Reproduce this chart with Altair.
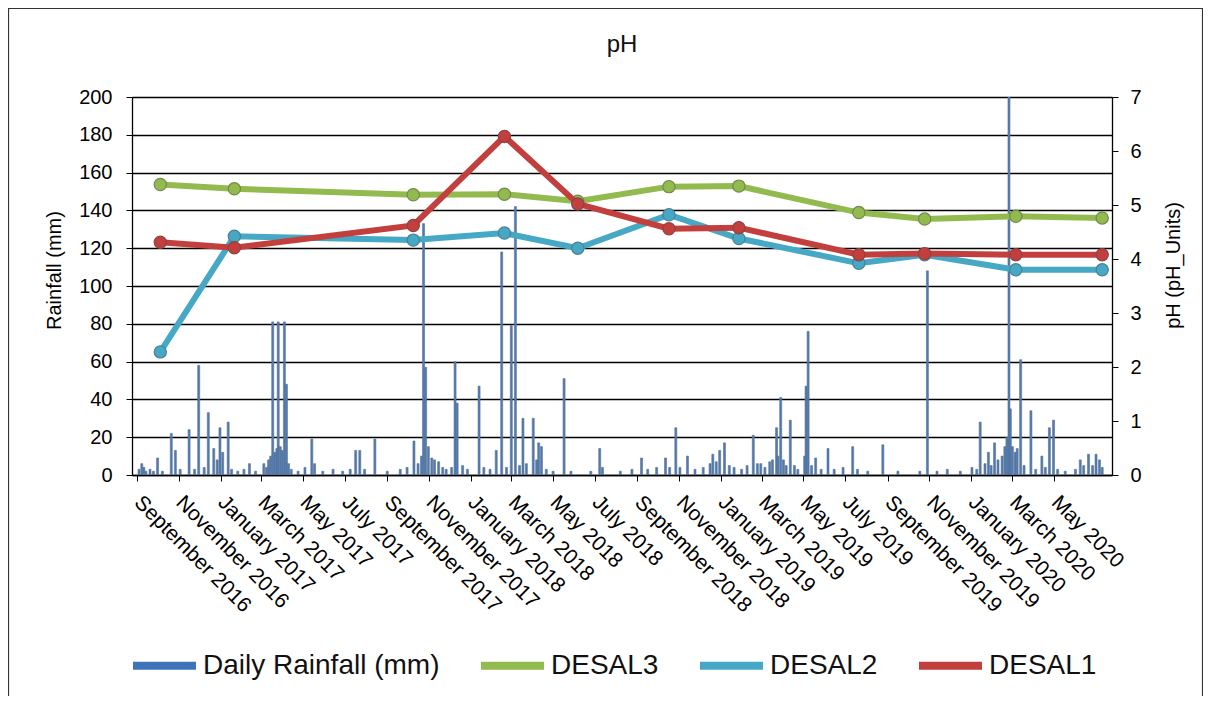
import altair as alt
import pandas as pd

FONT = "Liberation Sans"

# ---------------- pH series ----------------
ph_dates = ["2016-10-05", "2017-01-21", "2017-10-09", "2018-02-19", "2018-06-06",
            "2018-10-17", "2019-01-27", "2019-07-21", "2019-10-25", "2020-03-06", "2020-07-10"]
desal3 = [5.38, 5.30, 5.19, 5.20, 5.07, 5.34, 5.35, 4.86, 4.74, 4.79, 4.76]
desal2 = [2.28, 4.42, 4.35, 4.48, 4.20, 4.82, 4.38, 3.92, 4.08, 3.80, 3.80]
desal1 = [4.31, 4.21, 4.62, 6.27, 5.02, 4.56, 4.58, 4.08, 4.10, 4.08, 4.08]

# ---------------- daily rainfall ----------------
rain_dates = [
    "2016-09-04", "2016-09-08", "2016-09-11", "2016-09-14", "2016-09-20", "2016-09-25",
    "2016-10-01", "2016-10-08", "2016-10-21", "2016-10-27", "2016-11-03", "2016-11-16",
    "2016-11-24", "2016-11-30", "2016-12-08", "2016-12-14", "2016-12-22", "2016-12-27",
    "2016-12-31", "2017-01-04", "2017-01-12", "2017-01-17", "2017-01-26", "2017-02-04",
    "2017-02-12", "2017-02-21", "2017-03-05", "2017-03-09", "2017-03-12", "2017-03-15",
    "2017-03-18", "2017-03-21", "2017-03-24", "2017-03-26", "2017-03-29", "2017-04-01",
    "2017-04-04", "2017-04-07", "2017-04-10", "2017-04-14", "2017-04-24", "2017-05-04",
    "2017-05-14", "2017-05-18", "2017-05-30", "2017-06-14", "2017-06-28", "2017-07-09",
    "2017-07-17", "2017-07-23", "2017-07-30", "2017-08-14", "2017-09-01", "2017-09-20",
    "2017-09-30", "2017-10-10", "2017-10-16", "2017-10-21", "2017-10-24", "2017-10-27",
    "2017-10-31", "2017-11-05", "2017-11-09", "2017-11-15", "2017-11-21", "2017-11-26",
    "2017-12-04", "2017-12-09", "2017-12-12", "2017-12-20", "2017-12-27", "2018-01-13",
    "2018-01-20", "2018-01-29", "2018-02-07", "2018-02-15", "2018-02-22", "2018-03-01",
    "2018-03-07", "2018-03-13", "2018-03-18", "2018-03-23", "2018-04-02", "2018-04-07",
    "2018-04-10", "2018-04-14", "2018-04-21", "2018-05-01", "2018-05-17", "2018-05-27",
    "2018-06-25", "2018-07-08", "2018-07-12", "2018-08-07", "2018-08-24", "2018-09-07",
    "2018-09-16", "2018-09-29", "2018-10-12", "2018-10-18", "2018-10-27", "2018-11-02",
    "2018-11-13", "2018-11-24", "2018-12-06", "2018-12-16", "2018-12-20", "2018-12-25",
    "2018-12-30", "2019-01-06", "2019-01-13", "2019-01-20", "2019-01-31", "2019-02-08",
    "2019-02-17", "2019-02-23", "2019-02-28", "2019-03-06", "2019-03-13", "2019-03-17",
    "2019-03-23", "2019-03-25", "2019-03-29", "2019-04-02", "2019-04-06", "2019-04-12",
    "2019-04-18", "2019-04-23", "2019-05-03", "2019-05-05", "2019-05-08", "2019-05-13",
    "2019-05-19", "2019-05-27", "2019-06-06", "2019-06-15", "2019-06-28", "2019-07-12",
    "2019-07-19", "2019-08-03", "2019-08-25", "2019-09-16", "2019-10-18", "2019-10-29",
    "2019-11-12", "2019-11-27", "2019-12-16", "2020-01-02", "2020-01-09", "2020-01-14",
    "2020-01-21", "2020-01-26", "2020-01-30", "2020-02-04", "2020-02-09", "2020-02-15",
    "2020-02-19", "2020-02-22", "2020-02-25", "2020-02-27", "2020-03-01", "2020-03-05",
    "2020-03-08", "2020-03-13", "2020-03-18", "2020-03-28", "2020-04-04", "2020-04-13",
    "2020-04-18", "2020-04-24", "2020-04-30", "2020-05-06", "2020-05-17", "2020-06-01",
    "2020-06-08", "2020-06-13", "2020-06-20", "2020-06-26", "2020-07-01", "2020-07-06",
    "2020-07-10",
]
rain_mm = [
    3, 6, 4, 2, 3, 2,
    9, 2, 22, 13, 3, 24,
    3, 58, 4, 33, 14, 8,
    25, 12, 28, 3, 2, 3,
    6, 2, 6, 4, 8, 10,
    81, 12, 14, 81, 15, 13,
    81, 48, 6, 3, 2, 4,
    19, 6, 2, 3, 2, 3,
    13, 13, 3, 19, 2, 3,
    4, 18, 6, 10, 133, 57,
    15, 9, 8, 7, 4, 3,
    4, 60, 38, 5, 3, 47,
    4, 3, 13, 118, 4, 79,
    142, 5, 30, 6, 30, 8,
    17, 15, 3, 2, 51, 2,
    2, 14, 4, 2, 3, 9,
    3, 4, 9, 4, 25, 4,
    10, 3, 4, 6, 11, 7,
    13, 17, 5, 4, 3, 5,
    21, 6, 6, 4, 7, 8,
    25, 10, 41, 8, 5, 29,
    5, 3, 10, 47, 76, 5,
    9, 3, 14, 3, 4, 15,
    3, 2, 16, 2, 2, 108,
    2, 3, 2, 4, 3, 28,
    6, 12, 5, 17, 8, 10,
    15, 20, 205, 35, 15, 12,
    14, 61, 5, 34, 3, 10,
    4, 25, 29, 3, 2, 3,
    8, 5, 11, 5, 11, 8,
    4,
]

series_names = ["Daily Rainfall (mm)", "DESAL3", "DESAL2", "DESAL1"]
series_colors = ["#3F74B8", "#93BA4F", "#45A8C5", "#C33F3E"]
marker_edge = ["#6F8A4A", "#4F7F90", "#8A4444"]

x_label_ticks = [(2016, 9), (2016, 11)] + [(y, m) for y in (2017, 2018, 2019) for m in (1, 3, 5, 7, 9, 11)] \
                + [(2020, 1), (2020, 3), (2020, 5)]

# ---------------- tables ----------------
rain_df = pd.DataFrame({"date": pd.to_datetime(rain_dates), "mm": rain_mm})
ph_df = pd.concat([
    pd.DataFrame({"date": pd.to_datetime(ph_dates), "ph": vals, "series": name})
    for name, vals in (("DESAL3", desal3), ("DESAL2", desal2), ("DESAL1", desal1))
], ignore_index=True)

x_scale = alt.Scale(domain=[alt.DateTime(year=2016, month=9, date=1),
                            alt.DateTime(year=2020, month=7, date=17)])

x_axis = alt.Axis(
    values=[alt.DateTime(year=y, month=m, date=1) for y, m in x_label_ticks],
    format="%B %Y",
    labelAngle=45, labelAlign="left", labelBaseline="middle",
    labelFontSize=21, labelPadding=18, labelOverlap=False, labelFlush=False,
    labelLimit=400,
    tickSize=6, tickColor="black", domainColor="black", domainWidth=1.3,
    grid=False, title=None,
)

y_left_axis = alt.Axis(values=list(range(0, 201, 20)), grid=True, gridColor="black",
                       gridWidth=1.3, domainColor="black", domainWidth=1.3,
                       tickColor="black", tickSize=6, labelFontSize=20, labelPadding=14,
                       title="Rainfall (mm)", titleFontSize=20, titleFontWeight="normal",
                       titlePadding=14, titleY=173)

y_right_axis = alt.Axis(orient="right", values=list(range(0, 8)), grid=False,
                        domainColor="black", domainWidth=1.3, tickColor="black", tickSize=6,
                        labelFontSize=20, labelPadding=12, title="pH  (pH_Units)",
                        titleFontSize=20, titleFontWeight="normal", titleAngle=270,
                        titlePadding=42, titleY=168)

bars = alt.Chart(rain_df).mark_bar(
    width=2, fill="#4A7CC0", stroke="#5E6E80", strokeWidth=0.6, clip=True
).encode(
    x=alt.X("date:T", scale=x_scale, axis=x_axis),
    y=alt.Y("mm:Q", scale=alt.Scale(domain=[0, 200], nice=False), axis=y_left_axis),
)

color_scale = alt.Scale(domain=series_names, range=series_colors)
legend = alt.Legend(
    title=None, orient="none", direction="horizontal", legendX=-3, legendY=533,
    symbolType="stroke", symbolStrokeWidth=8, symbolSize=3969,
    labelFontSize=28, labelFont=FONT, labelColor="#111", labelOffset=3,
    labelLimit=400, columnPadding=25, symbolOpacity=1,
)

ph_layers = []
for i, name in enumerate(["DESAL3", "DESAL2", "DESAL1"]):
    base = alt.Chart(ph_df).transform_filter(alt.datum.series == name)
    line = base.mark_line(strokeWidth=6).encode(
        x=alt.X("date:T", scale=x_scale, axis=x_axis),
        y=alt.Y("ph:Q", scale=alt.Scale(domain=[0, 7], nice=False), axis=y_right_axis),
        color=alt.Color("series:N", scale=color_scale, legend=legend),
    )
    pts = base.mark_point(filled=True, size=150, opacity=1, stroke=marker_edge[i],
                          strokeWidth=1.2, fill=series_colors[i + 1]).encode(
        x=alt.X("date:T", scale=x_scale, axis=x_axis),
        y=alt.Y("ph:Q", scale=alt.Scale(domain=[0, 7], nice=False), axis=y_right_axis),
    )
    ph_layers += [line, pts]

frame = alt.Chart(alt.Data(values=[{}])).mark_rect(
    fillOpacity=0, stroke="#333", strokeWidth=1.2, clip=False
).encode(
    x=alt.value(-123.5), x2=alt.value(1070.5), y=alt.value(-88.5), y2=alt.value(640)
)

chart = alt.layer(
    frame, bars, alt.layer(*ph_layers)
).resolve_scale(y="independent").properties(
    width=980, height=378,
    padding={"left": 124, "top": 89, "right": 91, "bottom": 221},
    autosize=alt.AutoSizeParams(type="none"),
    title=alt.TitleParams("pH", fontSize=24, fontWeight="normal", font=FONT,
                          color="#111", anchor="middle", offset=-49),
).configure_view(stroke=None).configure_axis(
    labelFont=FONT, titleFont=FONT, labelColor="#111", titleColor="#111"
).configure(background="white")

chart.save("out.html", embed_options={"renderer": "svg", "actions": False})
